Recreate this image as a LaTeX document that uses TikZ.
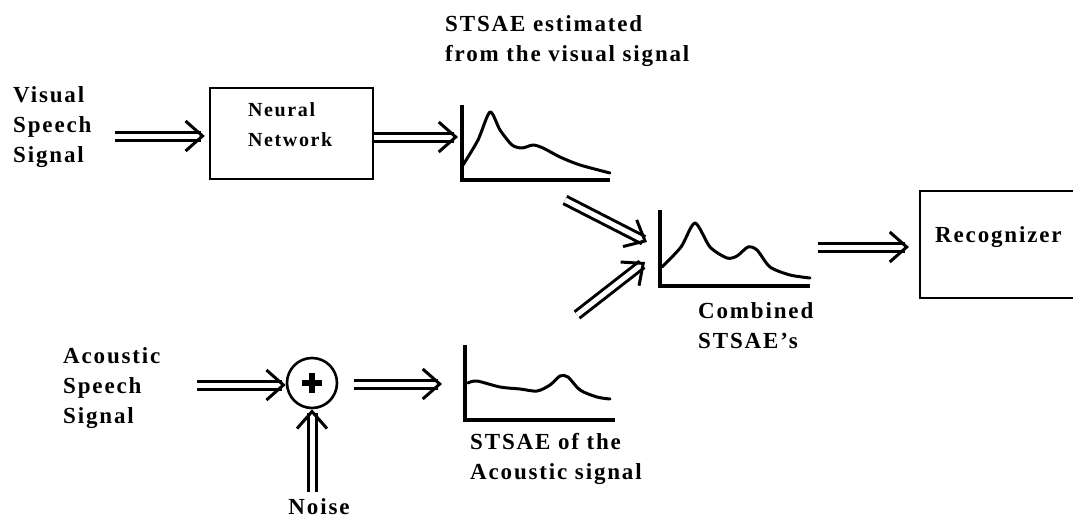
\documentclass[tikz,border=0pt]{standalone}
\usepackage{fontspec}
\setmainfont{Liberation Serif}[LetterSpace=8]
\usetikzlibrary{arrows.meta}
\begin{document}
\begin{tikzpicture}[x=1pt,y=-1pt,
  lbl/.style={font=\fontsize{23}{30}\selectfont\bfseries, align=left, inner sep=0pt},
  smalllbl/.style={font=\fontsize{20}{30}\selectfont\bfseries, align=left, inner sep=0pt},
  blockbox/.style={draw, line width=2.4pt, inner sep=0pt},
  dbl/.style={draw, double, double distance=5pt, line width=3pt,
    -{Straight Barb[length=17pt,width=30pt,line width=3pt]}},
  axisline/.style={line width=3.2pt, line join=miter},
  curveline/.style={line width=3pt, line cap=round, line join=round}]
\useasboundingbox[fill=white] (0,0) rectangle (1073,522);

% labels
\node[lbl, anchor=north west] (vis) at (13,86) {Visual\\Speech\\Signal};
\node[lbl, anchor=north west] (aco) at (63,347) {Acoustic\\Speech\\Signal};
\node[lbl, anchor=north west] (ttl) at (445,15) {STSAE estimated\\from the visual signal};
\node[lbl, anchor=north west] (comb) at (698,302) {Combined\\STSAE's};
\node[lbl, anchor=north west] (acl) at (470,433) {STSAE of the\\Acoustic signal};
\node[lbl, anchor=north] (noise) at (319,498) {Noise};

% blocks
\node[blockbox, minimum width=163pt, minimum height=91pt] (nn) at (291.5,133.5) {};
\node[smalllbl, anchor=north west] (nnt) at (248,102) {Neural\\Network};
\node[blockbox, anchor=north west, minimum width=180pt, minimum height=107pt] (rec) at (919,190) {};
\node[lbl, anchor=north west] (rect) at (935,226) {Recognizer};
\node[draw, circle, line width=2.6pt, minimum size=50pt, inner sep=0pt] (sum) at (312,383) {};
\draw[line width=5.5pt] ([xshift=-10pt]sum.center) -- ([xshift=10pt]sum.center);
\draw[line width=5.5pt] ([yshift=-10pt]sum.center) -- ([yshift=10pt]sum.center);

% plots
\draw[axisline] (462,105) -- (462,180) -- (610,180);
\draw[curveline] plot[smooth, tension=0.45] coordinates {(463,165) (478,140) (490,112) (500,130) (512,145) (522,148) (533,145) (543,148) (560,157) (580,165) (610,173)};
\draw[axisline] (660,210) -- (660,286) -- (810,286);
\draw[curveline] plot[smooth, tension=0.45] coordinates {(662,267) (681,247) (695,223) (710,247) (727,258) (737,256) (748,247) (757,250) (770,267) (790,275) (810,278)};
\draw[axisline] (465,345) -- (465,420) -- (615,420);
\draw[curveline] plot[smooth, tension=0.5] coordinates {(468,383) (477,381) (500,387) (520,389) (537,391) (550,385) (560,376) (568,377) (580,390) (597,397) (610,399)};

% connector end points
\coordinate (vtail) at (115,136);
\coordinate (p1in) at (458,137);
\coordinate (p1out) at (565,200);
\coordinate (p2inA) at (647,242);
\coordinate (p3out) at (577,315);
\coordinate (p2inB) at (645,262);
\coordinate (p2out) at (818,247);
\coordinate (atail) at (197,385);
\coordinate (p3in) at (442,384);

% connectors
\draw[dbl, shorten >=4pt] (vtail) -- (vtail -| nn.west);
\draw[dbl] (nn.east |- p1in) -- (p1in);
\draw[dbl] (p1out) -- (p2inA);
\draw[dbl] (p3out) -- (p2inB);
\draw[dbl, shorten >=10pt] (p2out) -- (p2out -| rec.west);
\draw[dbl] (atail) -- (atail -| sum.west);
\draw[dbl, shorten <=16pt] (sum.east |- p3in) -- (p3in);
\draw[dbl, shorten <=6pt] (noise.north -| sum.south) -- (sum.south);
\end{tikzpicture}
\end{document}
